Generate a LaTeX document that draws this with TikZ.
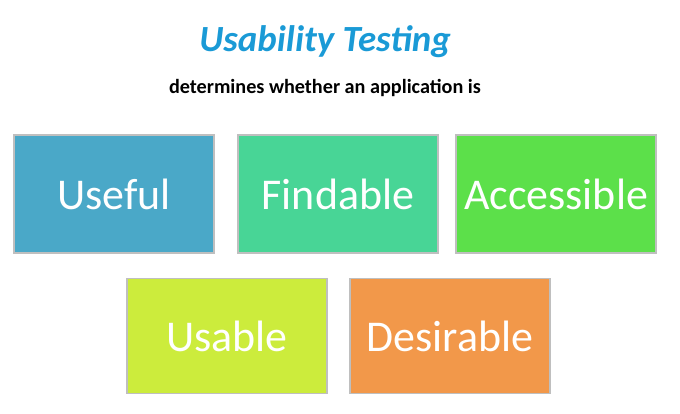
\documentclass[tikz,border=0pt]{standalone}
\usepackage{fontspec}
\setmainfont{Carlito}
\definecolor{titleblue}{HTML}{1A9AD6}
\definecolor{usefulc}{HTML}{4AA8C8}
\definecolor{findc}{HTML}{48D596}
\definecolor{accessc}{HTML}{5CE04A}
\definecolor{usablec}{HTML}{CCEC3C}
\definecolor{desirec}{HTML}{F2984A}
\begin{document}
\begin{tikzpicture}[x=0.02cm, y=-0.02cm,
  box/.style={draw=black!25, line width=0.6pt, text=white, inner sep=0pt,
    minimum width=4cm, minimum height=2.36cm, font=\fontsize{25}{28}\selectfont}]
\useasboundingbox (0,0) rectangle (680,413);

% Heading
\node[text=titleblue, font=\fontsize{21}{24}\selectfont\bfseries\itshape] (title) at (325,42) {Usability Testing};
\node[font=\fontsize{11.5}{13}\selectfont\bfseries] (sub) at (325,88) {determines whether an application is};

% Upper row
\node[box, fill=usefulc] (useful) at (114,194) {Useful};
\node[box, fill=findc] (findable) at (338,194) {Findable};
\node[box, fill=accessc] (accessible) at (556,194) {Accessible};

% Lower row
\node[box, fill=usablec, minimum height=2.3cm] (usable) at (227,336) {Usable};
\node[box, fill=desirec, minimum height=2.3cm] (desirable) at (450,336) {Desirable};
\end{tikzpicture}
\end{document}
